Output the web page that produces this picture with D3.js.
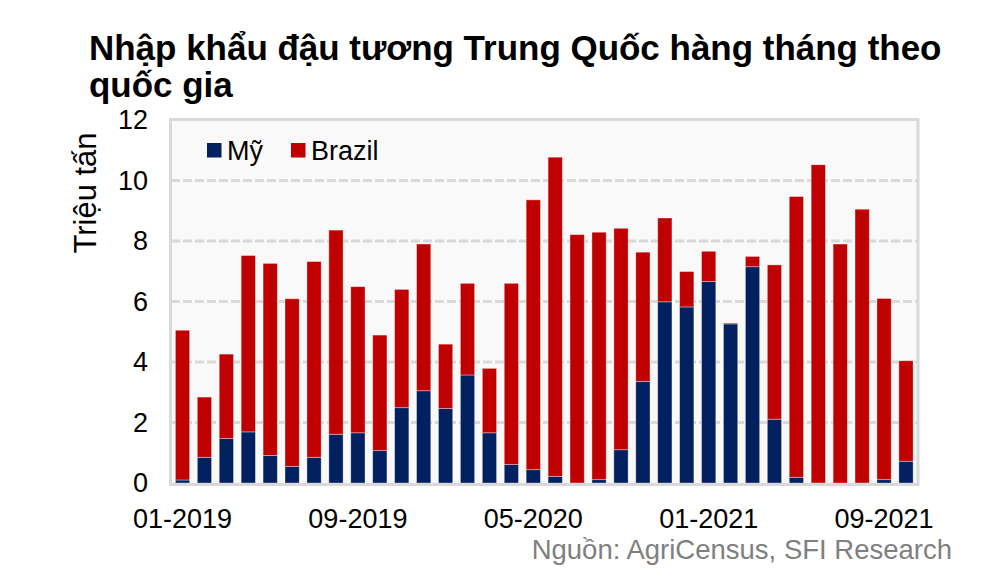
<!DOCTYPE html>
<html>
<head>
<meta charset="utf-8">
<script src="https://cdn.jsdelivr.net/npm/d3@7"></script>
<style>
  body { margin: 0; background: #fff; }
  text { font-family: "Liberation Sans", Arial, sans-serif; }
</style>
</head>
<body>
<div id="chart"></div>
<script>
// months on the x axis
var months = ["01-2019", "02-2019", "03-2019", "04-2019", "05-2019", "06-2019",
  "07-2019", "08-2019", "09-2019", "10-2019", "11-2019", "12-2019",
  "01-2020", "02-2020", "03-2020", "04-2020", "05-2020", "06-2020",
  "07-2020", "08-2020", "09-2020", "10-2020", "11-2020", "12-2020",
  "01-2021", "02-2021", "03-2021", "04-2021", "05-2021", "06-2021",
  "07-2021", "08-2021", "09-2021", "10-2021"];

// imports from the US (million tonnes)
var usVals = [0.10, 0.85, 1.47, 1.69, 0.91, 0.55, 0.85, 1.61, 1.66, 1.07, 2.49, 3.05,
  2.46, 3.57, 1.66, 0.61, 0.44, 0.22, 0.00, 0.11, 1.10, 3.36, 5.99, 5.82,
  6.66, 5.26, 7.15, 2.11, 0.19, 0.00, 0.00, 0.00, 0.11, 0.72];

// imports from Brazil (million tonnes)
var brazilVals = [4.95, 1.99, 2.79, 5.83, 6.35, 5.54, 6.47, 6.75, 4.83, 3.82, 3.91, 4.85,
  2.13, 3.03, 2.13, 5.99, 8.92, 10.55, 8.21, 8.18, 7.32, 4.27, 2.77, 1.17,
  1.00, 0.03, 0.34, 5.10, 9.28, 10.52, 7.90, 9.05, 5.99, 3.32];

var xTicks = ["01-2019", "09-2019", "05-2020", "01-2021", "09-2021"];
var yTicks = [0, 2, 4, 6, 8, 10, 12];

var seriesNames = ["Mỹ", "Brazil"];
var seriesColors = ["#002060", "#c00000"];

// svg container
var svgWidth = 996;
var svgHeight = 586;

// plot area
var plot = { left: 171, right: 917.5, top: 120, bottom: 483 };

var svg = d3.select("#chart")
  .append("svg")
  .attr("width", svgWidth)
  .attr("height", svgHeight);

// build stacked table
var table = months.map(function(m, i) {
  return { month: m, us: usVals[i], brazil: brazilVals[i] };
});
var stack = d3.stack().keys(["us", "brazil"]);
var layers = stack(table);

// scales
var x = d3.scaleBand()
  .domain(months)
  .range([plot.left, plot.right])
  .paddingInner(0.35)
  .paddingOuter(0.2);

var y = d3.scaleLinear()
  .domain([0, 12])
  .range([plot.bottom, plot.top]);

// plot background
svg.append("rect")
  .attr("x", plot.left)
  .attr("y", plot.top)
  .attr("width", plot.right - plot.left)
  .attr("height", plot.bottom - plot.top)
  .attr("fill", "#f9f9f9");

// dashed gridlines
svg.append("g")
  .selectAll("line")
  .data(yTicks.filter(d => d > 0 && d < 12))
  .enter()
  .append("line")
  .attr("x1", plot.left)
  .attr("x2", plot.right)
  .attr("y1", d => y(d))
  .attr("y2", d => y(d))
  .attr("stroke", "#d9d9d9")
  .attr("stroke-width", 3)
  .attr("stroke-dasharray", "9,3");

// stacked bars
svg.append("g")
  .selectAll("g")
  .data(layers)
  .enter()
  .append("g")
  .attr("fill", (d, i) => seriesColors[i])
  .selectAll("rect")
  .data(d => d)
  .enter()
  .append("rect")
  .attr("x", d => x(d.data.month))
  .attr("width", x.bandwidth())
  .attr("y", d => y(d[1]))
  .attr("height", d => y(d[0]) - y(d[1]))
  .attr("stroke", "rgba(255,255,255,0.45)")
  .attr("stroke-width", 0.8);

// plot border
svg.append("rect")
  .attr("x", plot.left - 0.5)
  .attr("y", plot.top - 0.5)
  .attr("width", plot.right - plot.left + 1)
  .attr("height", plot.bottom - plot.top + 2)
  .attr("fill", "none")
  .attr("stroke", "#d9d9d9")
  .attr("stroke-width", 3);

// y axis
var leftAxis = d3.axisLeft(y).tickValues(yTicks).tickSize(0).tickPadding(0);
var yAxis = svg.append("g")
  .attr("transform", `translate(${plot.left - 23}, 0)`)
  .call(leftAxis);
yAxis.select(".domain").remove();
yAxis.selectAll("text")
  .attr("font-size", 27)
  .attr("font-family", "Liberation Sans, Arial, sans-serif")
  .attr("fill", "#000");

// x axis
var bottomAxis = d3.axisBottom(x).tickValues(xTicks).tickSize(0).tickPadding(0);
var xAxis = svg.append("g")
  .attr("transform", `translate(0, ${plot.bottom})`)
  .call(bottomAxis);
xAxis.select(".domain").remove();
xAxis.selectAll("text")
  .attr("dy", null)
  .attr("y", 44.5)
  .attr("font-size", 27)
  .attr("font-family", "Liberation Sans, Arial, sans-serif")
  .attr("fill", "#000");

// y axis label
svg.append("text")
  .attr("transform", "translate(96, 193) rotate(-90)")
  .attr("text-anchor", "middle")
  .attr("font-size", 31)
  .text("Triệu tấn");

// legend
var legend = svg.append("g");
var legendX = [207, 291];
seriesNames.forEach(function(name, i) {
  legend.append("rect")
    .attr("x", legendX[i])
    .attr("y", 143)
    .attr("width", 14.5)
    .attr("height", 14.5)
    .attr("fill", seriesColors[i]);
  legend.append("text")
    .attr("x", legendX[i] + 20)
    .attr("y", 160)
    .attr("font-size", 27)
    .text(name);
});

// title, sized so the first line reaches the right edge like the original
var title = svg.append("text")
  .attr("x", 89)
  .attr("font-size", 35)
  .attr("font-weight", "bold");
var line1 = title.append("tspan").attr("x", 89).attr("y", 59.5)
  .text("Nhập khẩu đậu tương Trung Quốc hàng tháng theo");
title.append("tspan").attr("x", 89).attr("y", 97)
  .text("quốc gia");
var w1 = line1.node().getComputedTextLength();
if (w1 > 0) title.attr("font-size", 35 * 853 / w1);

// source
svg.append("text")
  .attr("x", 952)
  .attr("y", 559)
  .attr("text-anchor", "end")
  .attr("font-size", 27.5)
  .attr("fill", "#7f7f7f")
  .text("Nguồn: AgriCensus, SFI Research");
</script>
</body>
</html>
